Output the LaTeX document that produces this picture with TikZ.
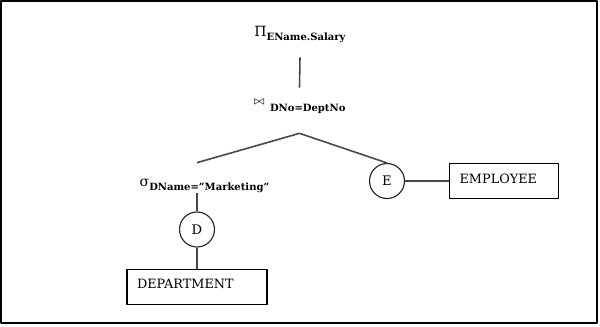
\documentclass[tikz,border=0pt]{standalone}
\usepackage{fontspec}
\setmainfont{DejaVu Serif}
\usepackage{tikz}
\usetikzlibrary{positioning}

\newcommand{\relsub}[1]{\raisebox{-2.3pt}{\fontsize{5.7}{6}\selectfont\bfseries #1}}

\begin{document}
\begin{tikzpicture}[x=0.02cm,y=-0.02cm,line join=round,
  edge/.style={line width=0.9pt,black!72},
  oplabel/.style={inner sep=0pt,anchor=base,font=\fontsize{8}{9}\selectfont},
  leaf/.style={circle,draw=black!85,line width=0.65pt,minimum size=0.7cm,inner sep=0pt,font=\fontsize{7.5}{9}\selectfont},
  relbox/.style={draw,line width=0.65pt,inner xsep=0.2cm,inner ysep=0pt,text height=0.39cm,text depth=0.31cm,align=left,font=\fontsize{7.3}{9}\selectfont}]
  \useasboundingbox (0,0) rectangle (600,326);
  \draw[line width=0.85pt] (1,1) rectangle (597,323);
  % operators
  \node[oplabel,text depth=0.42cm] (proj) at (300,36) {Π\relsub{EName.Salary}};
  \node[oplabel,text height=0.38cm,text depth=0.52cm] (join) at (299.5,107) {\raisebox{1.2pt}{\fontsize{6}{6}\selectfont$\bowtie$}\hspace{3pt}\relsub{DNo=DeptNo}};
  \node[oplabel,text height=0.46cm,text depth=0.14cm] (sel) at (204.5,186) {σ\relsub{DName=\symbol{34}Marketing\symbol{34}}};
  % relations
  \node[leaf] (dnode) at (197,229.5) {D};
  \node[leaf] (enode) at (387,181) {E};
  \node[relbox,text width=2.4cm,below=0.42cm of dnode] (dept) {DEPARTMENT};
  \node[relbox,text width=1.78cm,right=0.88cm of enode] (emp) {EMPLOYEE};
  % tree edges
  \draw[edge] (proj.south) -- (join.north);
  \draw[edge] (join.south) -- (sel.north -| dnode.north);
  \draw[edge] (join.south) -- (enode.north);
  \draw[edge] (sel.south -| dnode.north) -- (dnode.north);
  \draw[edge] (dnode.south) -- (dept.north);
  \draw[edge] (enode.east) -- (emp.west);
\end{tikzpicture}
\end{document}
